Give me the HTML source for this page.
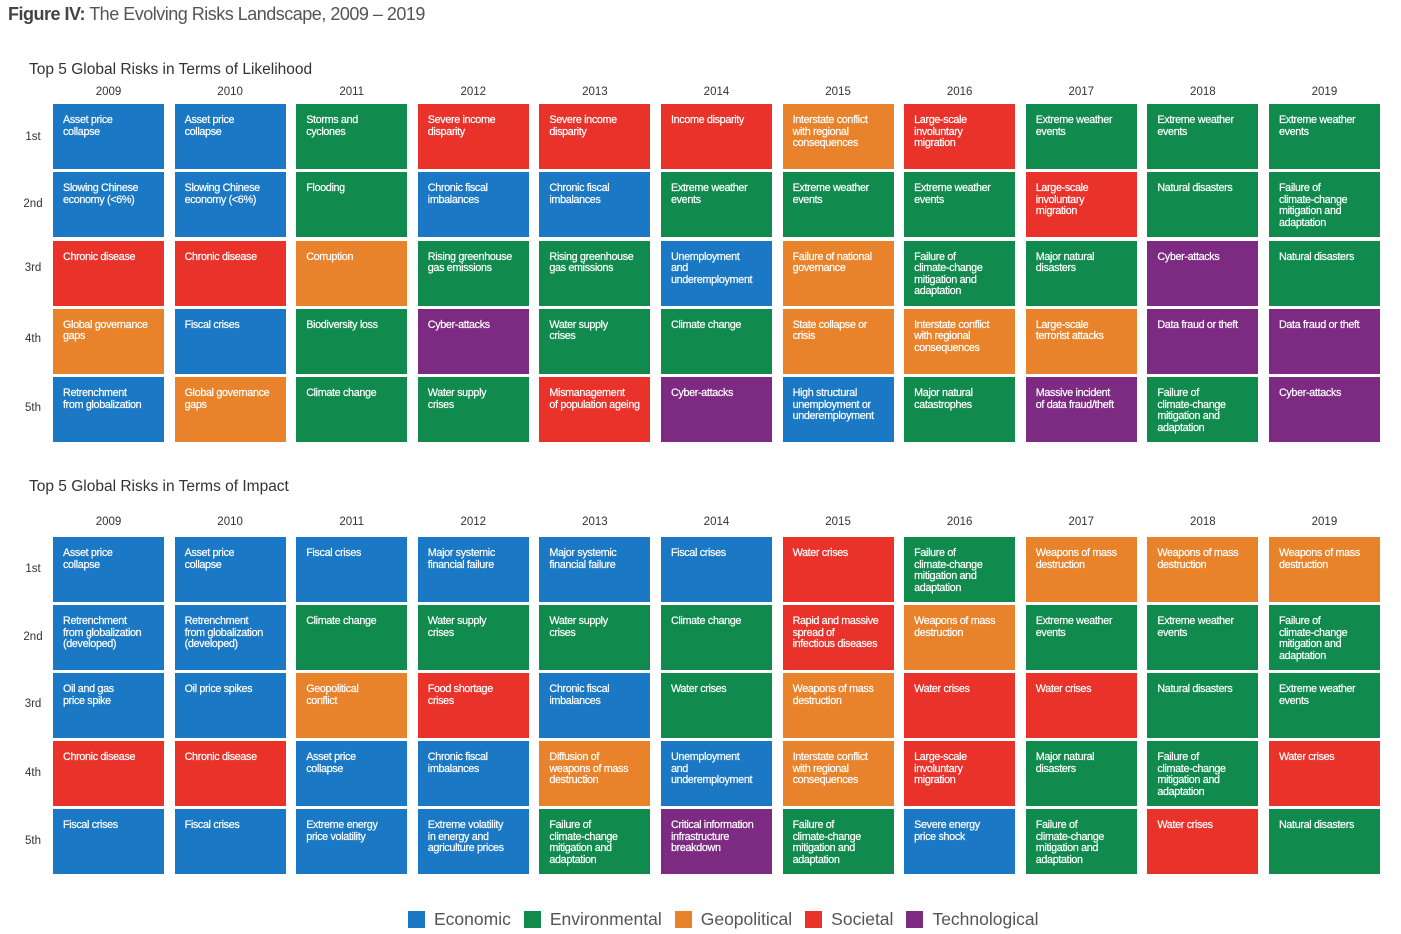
<!DOCTYPE html>
<html><head><meta charset="utf-8"><style>
body{margin:0;width:1401px;height:934px;background:#fff;font-family:"Liberation Sans",sans-serif;position:relative;overflow:hidden}
.abs{position:absolute}
.title{left:8px;top:4px;font-size:18px;color:#555;letter-spacing:-0.5px}
.title b{color:#444;font-weight:bold}
.sec{left:29px;font-size:15.5px;color:#333}
.years{left:53px;display:grid;grid-template-columns:repeat(11,111px);column-gap:10.6px;font-size:11.5px;color:#333;text-align:center}
.ranks{left:18px;font-size:11.5px;color:#333}
.ranks div{position:absolute;width:30px;text-align:center}
.grid{left:53px;display:grid;grid-template-columns:repeat(11,111px);column-gap:10.6px;grid-template-rows:repeat(5,65px);grid-auto-flow:column}
.g1{row-gap:3.25px;top:104px}
.g2{row-gap:3px;top:537px}
.grid div{color:#fff;font-size:10.8px;line-height:11.5px;letter-spacing:-0.35px;padding:11px 0 0 10px;box-sizing:border-box;-webkit-text-stroke:0.2px #fff}
.B{background:#1b78c4}.G{background:#108a4d}.O{background:#e8822b}.R{background:#e8322a}.P{background:#7d2a83}
.leg{top:909px;left:408px;font-size:17.5px;color:#555;display:flex;align-items:center}
.leg span.s{display:inline-block;width:17px;height:17px;margin-right:9px}
.leg span.t{margin-right:13px}
</style></head><body>
<div class="abs title"><b>Figure IV:</b> The Evolving Risks Landscape, 2009 – 2019</div>
<div class="abs sec" style="top:61px">Top 5 Global Risks in Terms of Likelihood</div>
<div class="abs years" style="top:86px"><div>2009</div><div>2010</div><div>2011</div><div>2012</div><div>2013</div><div>2014</div><div>2015</div><div>2016</div><div>2017</div><div>2018</div><div>2019</div></div>
<div class="abs ranks" style="top:0"><div style="top:131px">1st</div><div style="top:198px">2nd</div><div style="top:262px">3rd</div><div style="top:333px">4th</div><div style="top:402px">5th</div></div>
<div class="abs grid g1">
<div class="B">Asset price<br>collapse</div><div class="B">Slowing Chinese<br>economy (&lt;6%)</div><div class="R">Chronic disease</div><div class="O">Global governance<br>gaps</div><div class="B">Retrenchment<br>from globalization</div>
<div class="B">Asset price<br>collapse</div><div class="B">Slowing Chinese<br>economy (&lt;6%)</div><div class="R">Chronic disease</div><div class="B">Fiscal crises</div><div class="O">Global governance<br>gaps</div>
<div class="G">Storms and<br>cyclones</div><div class="G">Flooding</div><div class="O">Corruption</div><div class="G">Biodiversity loss</div><div class="G">Climate change</div>
<div class="R">Severe income<br>disparity</div><div class="B">Chronic fiscal<br>imbalances</div><div class="G">Rising greenhouse<br>gas emissions</div><div class="P">Cyber-attacks</div><div class="G">Water supply<br>crises</div>
<div class="R">Severe income<br>disparity</div><div class="B">Chronic fiscal<br>imbalances</div><div class="G">Rising greenhouse<br>gas emissions</div><div class="G">Water supply<br>crises</div><div class="R">Mismanagement<br>of population ageing</div>
<div class="R">Income disparity</div><div class="G">Extreme weather<br>events</div><div class="B">Unemployment<br>and<br>underemployment</div><div class="G">Climate change</div><div class="P">Cyber-attacks</div>
<div class="O">Interstate conflict<br>with regional<br>consequences</div><div class="G">Extreme weather<br>events</div><div class="O">Failure of national<br>governance</div><div class="O">State collapse or<br>crisis</div><div class="B">High structural<br>unemployment or<br>underemployment</div>
<div class="R">Large-scale<br>involuntary<br>migration</div><div class="G">Extreme weather<br>events</div><div class="G">Failure of<br>climate-change<br>mitigation and<br>adaptation</div><div class="O">Interstate conflict<br>with regional<br>consequences</div><div class="G">Major natural<br>catastrophes</div>
<div class="G">Extreme weather<br>events</div><div class="R">Large-scale<br>involuntary<br>migration</div><div class="G">Major natural<br>disasters</div><div class="O">Large-scale<br>terrorist attacks</div><div class="P">Massive incident<br>of data fraud/theft</div>
<div class="G">Extreme weather<br>events</div><div class="G">Natural disasters</div><div class="P">Cyber-attacks</div><div class="P">Data fraud or theft</div><div class="G">Failure of<br>climate-change<br>mitigation and<br>adaptation</div>
<div class="G">Extreme weather<br>events</div><div class="G">Failure of<br>climate-change<br>mitigation and<br>adaptation</div><div class="G">Natural disasters</div><div class="P">Data fraud or theft</div><div class="P">Cyber-attacks</div>
</div>
<div class="abs sec" style="top:478px">Top 5 Global Risks in Terms of Impact</div>
<div class="abs years" style="top:516px"><div>2009</div><div>2010</div><div>2011</div><div>2012</div><div>2013</div><div>2014</div><div>2015</div><div>2016</div><div>2017</div><div>2018</div><div>2019</div></div>
<div class="abs ranks" style="top:0"><div style="top:563px">1st</div><div style="top:631px">2nd</div><div style="top:698px">3rd</div><div style="top:767px">4th</div><div style="top:835px">5th</div></div>
<div class="abs grid g2">
<div class="B">Asset price<br>collapse</div><div class="B">Retrenchment<br>from globalization<br>(developed)</div><div class="B">Oil and gas<br>price spike</div><div class="R">Chronic disease</div><div class="B">Fiscal crises</div>
<div class="B">Asset price<br>collapse</div><div class="B">Retrenchment<br>from globalization<br>(developed)</div><div class="B">Oil price spikes</div><div class="R">Chronic disease</div><div class="B">Fiscal crises</div>
<div class="B">Fiscal crises</div><div class="G">Climate change</div><div class="O">Geopolitical<br>conflict</div><div class="B">Asset price<br>collapse</div><div class="B">Extreme energy<br>price volatility</div>
<div class="B">Major systemic<br>financial failure</div><div class="G">Water supply<br>crises</div><div class="R">Food shortage<br>crises</div><div class="B">Chronic fiscal<br>imbalances</div><div class="B">Extreme volatility<br>in energy and<br>agriculture prices</div>
<div class="B">Major systemic<br>financial failure</div><div class="G">Water supply<br>crises</div><div class="B">Chronic fiscal<br>imbalances</div><div class="O">Diffusion of<br>weapons of mass<br>destruction</div><div class="G">Failure of<br>climate-change<br>mitigation and<br>adaptation</div>
<div class="B">Fiscal crises</div><div class="G">Climate change</div><div class="G">Water crises</div><div class="B">Unemployment<br>and<br>underemployment</div><div class="P">Critical information<br>infrastructure<br>breakdown</div>
<div class="R">Water crises</div><div class="R">Rapid and massive<br>spread of<br>infectious diseases</div><div class="O">Weapons of mass<br>destruction</div><div class="O">Interstate conflict<br>with regional<br>consequences</div><div class="G">Failure of<br>climate-change<br>mitigation and<br>adaptation</div>
<div class="G">Failure of<br>climate-change<br>mitigation and<br>adaptation</div><div class="O">Weapons of mass<br>destruction</div><div class="R">Water crises</div><div class="R">Large-scale<br>involuntary<br>migration</div><div class="B">Severe energy<br>price shock</div>
<div class="O">Weapons of mass<br>destruction</div><div class="G">Extreme weather<br>events</div><div class="R">Water crises</div><div class="G">Major natural<br>disasters</div><div class="G">Failure of<br>climate-change<br>mitigation and<br>adaptation</div>
<div class="O">Weapons of mass<br>destruction</div><div class="G">Extreme weather<br>events</div><div class="G">Natural disasters</div><div class="G">Failure of<br>climate-change<br>mitigation and<br>adaptation</div><div class="R">Water crises</div>
<div class="O">Weapons of mass<br>destruction</div><div class="G">Failure of<br>climate-change<br>mitigation and<br>adaptation</div><div class="G">Extreme weather<br>events</div><div class="R">Water crises</div><div class="G">Natural disasters</div>
</div>
<div class="abs leg"><span class="s B"></span><span class="t">Economic</span><span class="s G"></span><span class="t">Environmental</span><span class="s O"></span><span class="t">Geopolitical</span><span class="s R"></span><span class="t">Societal</span><span class="s P"></span><span class="t">Technological</span></div>
</body></html>
